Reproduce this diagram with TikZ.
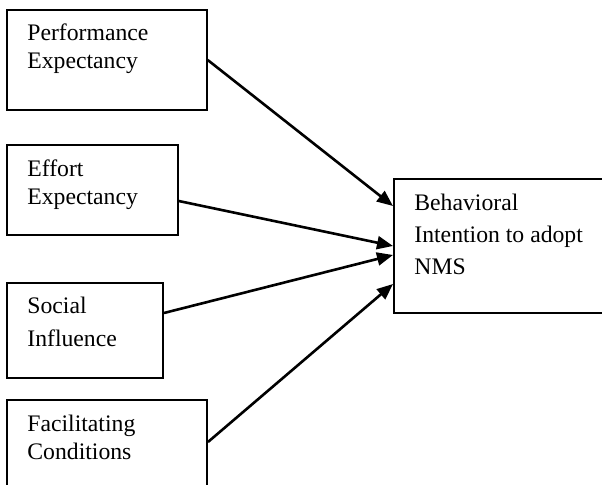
\documentclass[tikz,border=0pt]{standalone}
\usepackage{fontspec}
\setmainfont{Liberation Serif}
\usetikzlibrary{arrows.meta,calc}
\tikzset{
  box/.style={draw=black, line width=1pt, rectangle, anchor=north west, inner sep=0pt},
  lbl/.style={anchor=base west, inner sep=0pt, align=left},
  arr/.style={line width=1.3pt, -{Triangle[length=8pt,width=6.5pt]}},
}
\begin{document}
\begin{tikzpicture}[x=0.5pt,y=-0.5pt]
\clip (0,0) rectangle (602,485);
\fill[white] (0,0) rectangle (602,485);
% boxes
\node[box, minimum width=99.85pt, minimum height=50pt] (pe) at (6,9) {};
\node[box, minimum width=85.35pt, minimum height=45pt] (ee) at (6,144) {};
\node[box, minimum width=78pt, minimum height=47.5pt] (si) at (6,282) {};
\node[box, minimum width=100pt, minimum height=46pt] (fc) at (6,399) {};
\node[box, minimum width=110pt, minimum height=67pt] (bi) at (393,178) {};
% labels (anchored at the baseline of the last line)
\node[lbl, font=\fontsize{11.85}{13.8}\selectfont] (pet) at (27,68.3) {Performance\\Expectancy};
\node[lbl, font=\fontsize{11.85}{13.8}\selectfont] (eet) at (27,204.3) {Effort\\Expectancy};
\node[lbl, font=\fontsize{11.85}{16.35}\selectfont] (sit) at (27,346.7) {Social\\Influence};
\node[lbl, font=\fontsize{11.85}{13.8}\selectfont] (fct) at (27,459.3) {Facilitating\\Conditions};
\node[lbl, font=\fontsize{11.85}{16}\selectfont] (bit) at (414,274.3) {Behavioral\\Intention to adopt\\NMS};
% connectors
\draw[arr] (pe.east) -- ($(bi.west)+(0,-40)$);
\draw[arr] ($(ee.east)+(0,11)$) -- (bi.west);
\draw[arr] ($(si.east)+(0,-17.5)$) -- ($(bi.west)+(0,9)$);
\draw[arr] ($(fc.east)+(0,-4)$) -- ($(bi.west)+(0,38)$);
\end{tikzpicture}
\end{document}
